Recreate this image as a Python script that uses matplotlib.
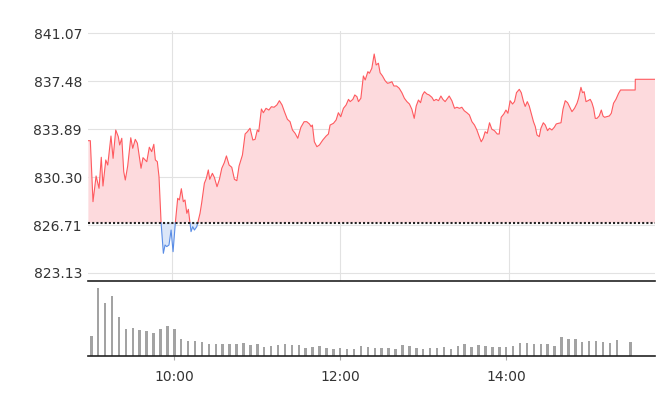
import numpy as np
import matplotlib
matplotlib.use("Agg")
import matplotlib.pyplot as plt

# intraday index, minutes after 09:00
minutes = [0.6, 2.0, 3.9, 6.1, 8.2, 9.8, 11.0, 13.0, 14.4, 16.7, 18.2, 20.1, 21.9, 22.9, 24.4,
           25.8, 26.9, 28.6, 30.8, 32.2, 34.0, 35.5, 38.1, 39.5, 42.2, 44.0, 45.7, 47.2, 48.3,
           49.7, 50.9, 52.4, 54.0, 55.2, 56.4, 58.0, 59.5, 60.9, 62.5, 64.2, 65.4, 66.8, 68.2,
           69.4, 70.7, 71.8, 73.7, 74.9, 76.1, 77.8, 80.1, 81.3, 83.2, 84.6, 86.0, 87.0, 88.9,
           90.3, 92.2, 93.9, 95.6, 97.4, 98.9, 100.8, 102.7, 104.6, 106.3, 107.9, 110.3, 112.2,
           113.8, 115.7, 117.7, 119.3, 120.9, 121.9, 123.8, 125.2, 127.1, 129.1, 130.9, 132.8,
           134.8, 136.6, 138.5, 140.2, 142.3, 144.2, 145.9, 147.8, 149.7, 151.9, 154.2, 156.1,
           158.0, 159.2, 160.1, 161.5, 163.3, 165.1, 167.5, 169.9, 171.5, 172.7, 175.1, 177.0,
           178.6, 180.3, 182.2, 184.1, 185.8, 187.0, 188.9, 190.3, 191.8, 192.9, 194.6, 196.4,
           197.7, 199.6, 200.7, 202.4, 204.1, 205.5, 207.1, 208.3, 210.0, 211.9, 213.6, 215.3,
           216.7, 218.1, 220.0, 221.9, 223.8, 225.6, 227.4, 229.2, 230.9, 232.6, 234.0, 235.6,
           237.1, 238.5, 239.9, 241.6, 243.2, 245.2, 246.6, 248.2, 249.9, 251.6, 253.0, 254.6,
           256.3, 257.5, 259.4, 261.3, 263.0, 264.8, 266.5, 268.2, 270.1, 271.9, 273.7, 275.5,
           277.2, 278.9, 280.3, 281.7, 283.1, 284.6, 286.2, 287.9, 289.7, 291.7, 293.1, 294.5,
           296.4, 297.9, 299.3, 300.9, 302.6, 304.0, 305.4, 307.4, 308.8, 310.4, 311.6, 313.1,
           314.5, 315.9, 317.5, 318.8, 320.0, 321.6, 322.8, 324.5, 325.9, 327.5, 328.9, 330.6,
           332.3, 333.7, 335.3, 337.1, 338.5, 340.1, 341.8, 343.2, 344.9, 346.7, 348.5, 349.6,
           351.3, 352.4, 353.6, 354.9, 356.3, 357.9, 359.1, 360.3, 361.5, 362.7, 364.3, 365.8,
           367.0, 368.1, 369.8, 371.5, 372.9, 374.5, 376.2, 378.1, 379.5, 389.9, 390.0, 404.0]
price = [833.02, 833.02, 828.46, 830.38, 829.46, 831.78, 829.63, 831.58, 831.20, 833.37, 831.70,
         833.82, 833.32, 832.70, 833.20, 830.70, 830.08, 831.13, 833.24, 832.45, 833.12, 832.83,
         830.96, 831.75, 831.45, 832.53, 832.20, 832.75, 831.58, 831.45, 830.33, 826.85, 824.60,
         825.22, 825.10, 825.22, 826.34, 824.72, 826.85, 828.71, 828.59, 829.43, 828.46, 828.59,
         827.59, 827.89, 826.22, 826.59, 826.34, 826.59, 827.59, 828.39, 829.84, 830.21, 830.83,
         830.13, 830.58, 830.28, 829.58, 830.13, 830.96, 831.38, 831.88, 831.20, 831.03, 830.13,
         830.03, 831.13, 831.95, 833.52, 833.69, 833.95, 833.07, 833.12, 833.82, 833.69, 835.39,
         835.11, 835.44, 835.31, 835.56, 835.52, 835.69, 836.01, 835.69, 835.19, 834.62, 834.44,
         833.82, 833.57, 833.20, 834.02, 834.44, 834.44, 834.27, 834.07, 834.19, 832.94, 832.57,
         832.70, 833.07, 833.37, 833.52, 834.19, 834.32, 834.57, 835.11, 834.81, 835.44, 835.69,
         836.11, 835.94, 836.11, 836.44, 836.31, 835.94, 836.19, 837.86, 837.56, 838.18, 838.06,
         838.43, 839.50, 838.68, 838.81, 838.10, 837.86, 837.50, 837.31, 837.36, 837.43, 837.11,
         837.11, 836.94, 836.61, 836.19, 835.94, 835.76, 835.37, 834.69, 835.61, 836.06, 835.86,
         836.44, 836.68, 836.51, 836.44, 836.26, 836.01, 836.11, 836.01, 836.36, 836.11, 835.94,
         836.19, 836.36, 836.01, 835.44, 835.52, 835.44, 835.52, 835.26, 835.11, 834.94, 834.44,
         834.19, 833.82, 833.32, 832.94, 833.20, 833.69, 833.57, 834.36, 833.87, 833.77, 833.52,
         833.52, 834.77, 835.02, 835.31, 835.07, 836.01, 835.76, 835.94, 836.61, 836.86, 836.61,
         835.94, 835.58, 835.94, 835.61, 835.07, 834.44, 834.07, 833.45, 833.32, 833.95, 834.36,
         834.19, 833.77, 833.95, 833.82, 834.02, 834.27, 834.32, 834.36, 835.37, 836.01, 835.86,
         835.56, 835.19, 835.44, 835.82, 836.19, 837.01, 836.61, 836.68, 835.94, 836.01, 836.11,
         835.86, 835.44, 834.69, 834.69, 834.87, 835.31, 834.87, 834.77, 834.82, 834.87, 835.07,
         835.82, 836.11, 836.56, 836.81, 836.81, 837.61, 837.61]
prev_close = 826.89

# 5-minute volume bars (bar 15:25 empty)
vol_minutes = list(range(0, 385, 5)) + [390]
volume = [60, 204, 159, 180, 117, 81, 84, 78, 75, 69, 81, 90, 81, 51, 45, 45, 42, 36, 36, 36,
          36, 36, 39, 33, 36, 27, 30, 33, 36, 33, 33, 24, 27, 30, 24, 21, 24, 21, 21, 30,
          27, 24, 24, 24, 21, 33, 30, 24, 21, 24, 24, 27, 21, 30, 36, 27, 33, 30, 27, 27,
          27, 30, 39, 39, 36, 36, 36, 30, 57, 51, 51, 42, 45, 45, 42, 39, 48, 42]

y_ticks = [823.13, 826.71, 830.30, 833.89, 837.48, 841.07]
x_labels = ["10:00", "12:00", "14:00"]
x_ticks = [(int(s[:2]) - 9) * 60 + int(s[3:]) for s in x_labels]

red_line, red_fill = "#ff5a5f", "#fddadd"
blue_line, blue_fill = "#5a8de6", "#dbe6f8"

t = np.array(minutes)
p = np.array(price)
# add the points where the line crosses the previous close
tt, pp = [t[0]], [p[0]]
for i in range(1, len(t)):
    a, b = p[i - 1] - prev_close, p[i] - prev_close
    if a * b < 0:
        f = a / (a - b)
        tt.append(t[i - 1] + f * (t[i] - t[i - 1]))
        pp.append(prev_close)
    tt.append(t[i])
    pp.append(p[i])
tt, pp = np.array(tt), np.array(pp)

fig = plt.figure(figsize=(6.58, 4.08), dpi=100)
ax = fig.add_axes([0.133, 0.3113, 0.8624, 0.6127])
axv = fig.add_axes([0.133, 0.1275, 0.8624, 0.1838])

ax.fill_between(tt, pp, prev_close, where=pp >= prev_close, color=red_fill, lw=0, interpolate=True)
ax.fill_between(tt, pp, prev_close, where=pp <= prev_close, color=blue_fill, lw=0, interpolate=True)
ax.plot(tt, np.where(pp >= prev_close, pp, np.nan), color=red_line, lw=0.8)
ax.plot(tt, np.where(pp <= prev_close, pp, np.nan), color=blue_line, lw=0.8)
ax.axhline(prev_close, color="#222222", lw=1.5, ls=(0, (1, 1)), zorder=5)

ax.set_xlim(0, 404)
ax.set_ylim(822.53, 841.22)
ax.set_yticks(y_ticks)
ax.set_yticklabels(["%.2f" % v for v in y_ticks])
ax.set_xticks(x_ticks)
ax.tick_params(axis="x", length=0, labelbottom=False)
ax.tick_params(axis="y", length=0, pad=4, labelsize=10, labelcolor="#333333")
ax.grid(True, color="#e2e2e2", lw=0.8)
ax.set_axisbelow(True)
for s in ["top", "right", "left"]:
    ax.spines[s].set_visible(False)
ax.spines["bottom"].set_color("#222222")
ax.spines["bottom"].set_linewidth(1.2)

axv.bar(vol_minutes, volume, width=1.8, color="#a3a3a3")
axv.set_xlim(-2.75, 407.6)
axv.set_ylim(0, 225)
axv.set_yticks([])
axv.set_xticks(x_ticks)
axv.set_xticklabels(x_labels)
axv.tick_params(axis="x", length=3, color="#aaaaaa", pad=7, labelsize=10, labelcolor="#333333")
for s in ["top", "right", "left"]:
    axv.spines[s].set_visible(False)
axv.spines["bottom"].set_color("#222222")
axv.spines["bottom"].set_linewidth(1.2)
axv.patch.set_alpha(0)

fig.savefig("out.png", dpi=100)
